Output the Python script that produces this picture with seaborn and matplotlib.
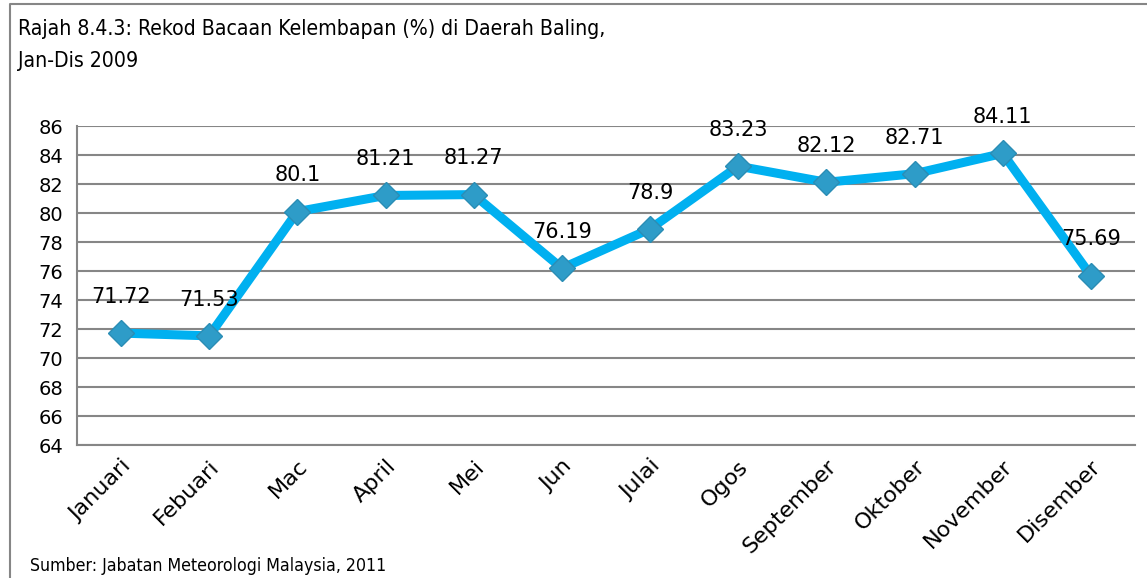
import numpy as np
import pandas as pd
import seaborn as sns
from matplotlib import pyplot as plt
from matplotlib.lines import Line2D

months = ['Januari', 'Febuari', 'Mac', 'April', 'Mei', 'Jun', 'Julai',
          'Ogos', 'September', 'Oktober', 'November', 'Disember']
humidity = [71.72, 71.53, 80.1, 81.21, 81.27, 76.19, 78.9,
            83.23, 82.12, 82.71, 84.11, 75.69]
y_ticks = list(range(64, 87, 2))

title = 'Rajah 8.4.3: Rekod Bacaan Kelembapan (%) di Daerah Baling,\nJan-Dis 2009'
source = 'Sumber: Jabatan Meteorologi Malaysia, 2011'

sns.set_style('white')
plt.rcParams['font.family'] = ['DejaVu Sans']
plt.rcParams['text.color'] = 'black'
plt.rcParams['xtick.color'] = 'black'
plt.rcParams['ytick.color'] = 'black'

df = pd.DataFrame({'bulan': months, 'kelembapan': humidity})

fig = plt.figure(figsize=(11.47, 5.78), dpi=100)
ax = fig.add_axes([0.0671, 0.230, 0.9224, 0.552])

sns.lineplot(data=df, x='bulan', y='kelembapan', ax=ax, color='#00B0F0',
             linewidth=6.5, marker='D', markersize=13,
             markerfacecolor='#2E9CC8', markeredgecolor='#2A8DB5',
             markeredgewidth=1)

for i, v in enumerate(humidity):
    ax.annotate(f'{v:g}', (i, v), xytext=(0, 26), textcoords='offset points',
                ha='center', va='center', fontsize=15)

ax.set_ylim(64, 86)
ax.set_yticks(y_ticks)
ax.set_yticklabels([str(t) for t in y_ticks], fontsize=14)
ax.set_xlim(-0.5, len(months) - 0.5)
ax.set_xticks(np.arange(-0.5, len(months), 1.0))
ax.set_xticklabels([])
ax.set_xticks(range(len(months)), minor=True)
ax.set_xticklabels(months, minor=True, rotation=45, ha='right',
                   rotation_mode='anchor', fontsize=16)
ax.tick_params(axis='x', which='minor', length=0, pad=8)
ax.tick_params(axis='x', which='major', length=6, width=1.5, color='#868686', direction='out')
ax.tick_params(axis='y', length=6, width=1.5, color='#868686', direction='out', pad=4)
ax.set_xlabel('')
ax.set_ylabel('')

ax.grid(axis='y', color='#868686', linewidth=1.5)
ax.set_axisbelow(True)
for side in ['top', 'right']:
    ax.spines[side].set_visible(False)
for side in ['left', 'bottom']:
    ax.spines[side].set_color('#868686')
    ax.spines[side].set_linewidth(1.5)

fig.text(18 / 1147, 1 - 19 / 578, title, ha='left', va='top', fontsize=15.2,
         fontstretch='condensed', fontweight='medium', linespacing=1.75)
fig.text(30 / 1147, 1 - 566 / 578, source, ha='left', va='center', fontsize=12.7,
         fontstretch='condensed')

# outer chart frame (left and top only)
fig.add_artist(Line2D([10 / 1147, 10 / 1147, 1.0], [0.0, 1 - 4 / 578, 1 - 4 / 578],
                      transform=fig.transFigure, color='#868686', linewidth=1.5))

fig.savefig('out.png', dpi=100)
